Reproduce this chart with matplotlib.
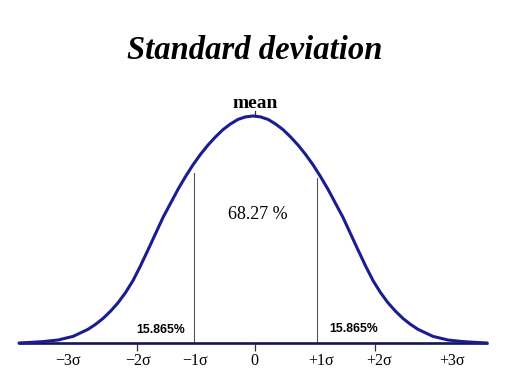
import matplotlib
matplotlib.use("Agg")
import matplotlib.pyplot as plt


# right half of the bell curve: x in sigma units,
# height relative to the peak; the left half mirrors it
half_x = [0.000, 0.125, 0.250, 0.375, 0.500, 0.625, 0.750, 0.875, 1.000, 1.125,
          1.250, 1.500, 1.750, 1.875, 2.000, 2.125, 2.250, 2.375, 2.500, 2.625,
          2.750, 3.000, 3.250, 3.500, 3.750, 3.900]
half_y = [1.000, 0.996, 0.985, 0.965, 0.940, 0.908, 0.872, 0.831, 0.785, 0.733,
          0.677, 0.553, 0.410, 0.340, 0.275, 0.222, 0.177, 0.140, 0.108, 0.082,
          0.060, 0.029, 0.013, 0.006, 0.002, 0.000]

tick_labels = ["\u22123\u03c3", "\u22122\u03c3", "\u22121\u03c3", "0", "+1\u03c3", "+2\u03c3", "+3\u03c3"]
tick_label_x = [-3.08, -1.92, -0.97, 0.03, 1.13, 2.10, 3.32]
small_ticks = [-1.93, 0.03, 2.03]
sigma_lines = [-0.98, 1.07]
sigma_line_tops = [0.749, 0.727]

title = "Standard deviation"
inner_share = "68.27 %"
tail_share = "15.865%"

CURVE_COLOR = "#1c1c92"
AXIS_COLOR = "#15154f"
SERIF = ["Liberation Serif", "DejaVu Serif"]
SANS = ["Liberation Sans", "DejaVu Sans"]


def main():
    curve_x = [-x for x in reversed(half_x[1:])] + half_x
    curve_y = list(reversed(half_y[1:])) + half_y

    fig = plt.figure(figsize=(5.23, 3.92), dpi=100)
    ax = fig.add_axes([0, 0, 1, 1])
    ax.set_xlim(-4.217, 4.5)
    ax.set_ylim(-0.216, 1.511)
    ax.axis("off")

    ax.plot([-3.92, 3.92], [0, 0], color=AXIS_COLOR, lw=1.9, solid_capstyle="butt", zorder=2)
    ax.plot(curve_x, curve_y, color=CURVE_COLOR, lw=2.2, solid_joinstyle="round",
            solid_capstyle="round", zorder=3)

    for x, top in zip(sigma_lines, sigma_line_tops):
        ax.plot([x, x], [0, top], color="#555555", lw=0.8, zorder=1)

    ax.vlines(small_ticks, -0.037, 0, color="#333333", lw=0.9)
    ax.plot([0.03, 0.03], [1.0, 1.02], color="#333333", lw=0.9)

    for x, label in zip(tick_label_x, tick_labels):
        ax.text(x, -0.08, label, ha="center", va="center", fontsize=11.5, family=SERIF)

    ax.text(0.02, 1.29, title, ha="center", va="center", fontsize=23.5,
            family=SERIF, weight="bold", style="italic")
    ax.text(0.03, 1.035, "mean", ha="center", va="baseline", fontsize=14,
            family=SERIF, weight="bold")
    ax.text(0.08, 0.568, inner_share, ha="center", va="center", fontsize=13, family=SERIF)
    ax.text(-1.533, 0.057, tail_share, ha="center", va="center", fontsize=8.8,
            family=SANS, weight="bold")
    ax.text(1.683, 0.062, tail_share, ha="center", va="center", fontsize=8.8,
            family=SANS, weight="bold")

    fig.savefig("out.png", dpi=100)
    plt.close(fig)


if __name__ == "__main__":
    main()
